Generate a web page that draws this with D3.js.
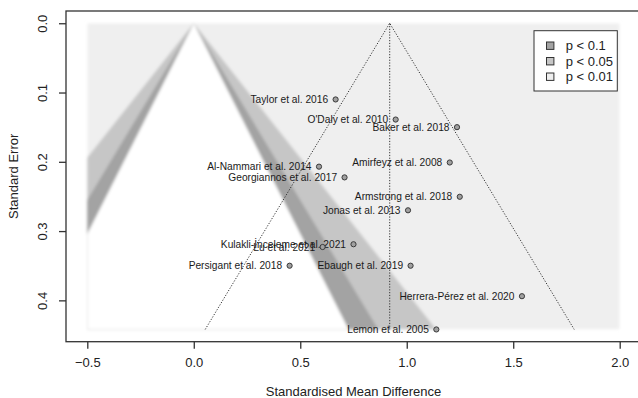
<!DOCTYPE html>
<html>
<head>
<meta charset="utf-8">
<script src="https://cdn.jsdelivr.net/npm/d3@7"></script>
<style>
  html, body { margin: 0; padding: 0; background: #fff; }
  svg { display: block; font-family: "Liberation Sans", Arial, sans-serif; }
</style>
</head>
<body>
<svg id="chart" width="638" height="398"></svg>
<script>
// Contour-enhanced funnel plot of standardised mean differences
const studies = [
  "Taylor et al. 2016", "O'Daly et al. 2010", "Baker et al. 2018",
  "Amirfeyz et al. 2008", "Al-Nammari et al. 2014", "Georgiannos et al. 2017",
  "Armstrong et al. 2018", "Jonas et al. 2013", "Kulakli-İnceleme et al. 2021",
  "Lu et al. 2021", "Persigant et al. 2018", "Ebaugh et al. 2019",
  "Herrera-Pérez et al. 2020", "Lemon et al. 2005"
];
const smd = [0.666, 0.948, 1.236, 1.202, 0.588, 0.708, 1.249, 1.006, 0.750, 0.605, 0.450, 1.018, 1.541, 1.139];
const se  = [0.110, 0.139, 0.150, 0.201, 0.207, 0.2225, 0.2505, 0.270, 0.319, 0.323, 0.350, 0.350, 0.394, 0.442];

const pooledEstimate = 0.92;
const xTicks = [-0.5, 0.0, 0.5, 1.0, 1.5, 2.0];
const yTicks = [0.0, 0.1, 0.2, 0.3, 0.4];
const xLimits = [-0.5, 2.0];

// contour levels: critical z values, their band colours and legend labels
const contourZ = [2.576, 1.96, 1.645];
const contourFill = ["#c6c6c6", "#a3a3a3", "#ffffff"];
const backFill = "#efefef";
const legendLabels = ["p < 0.1", "p < 0.05", "p < 0.01"];
const legendFill = ["#a3a3a3", "#c6c6c6", "#efefef"];

const svg = d3.select("#chart");
const seMax = d3.max(se);

// plot region with R-style 4% padding
const xPad = (xLimits[1] - xLimits[0]) * 0.04;
const yPad = seMax * 0.04;
const x = d3.scaleLinear().domain([xLimits[0] - xPad, xLimits[1] + xPad]).range([66, 641]);
const y = d3.scaleLinear().domain([-yPad, seMax + yPad]).range([11, 341.7]);

const defs = svg.append("defs");
defs.append("clipPath").attr("id", "shadeClip")
  .append("rect")
  .attr("x", x(xLimits[0])).attr("y", y(0))
  .attr("width", x(xLimits[1]) - x(xLimits[0]))
  .attr("height", y(seMax) - y(0));
defs.append("filter").attr("id", "soft").attr("x", "-5%").attr("y", "-5%").attr("width", "110%").attr("height", "110%")
  .append("feGaussianBlur").attr("stdDeviation", 1.6);

// shaded contour region, softened as a whole
const shadeWrap = svg.append("g").attr("filter", "url(#soft)");
const shade = shadeWrap.append("g").attr("clip-path", "url(#shadeClip)");
shade.append("rect")
  .attr("x", x(xLimits[0])).attr("y", y(0))
  .attr("width", x(xLimits[1]) - x(xLimits[0]))
  .attr("height", y(seMax) - y(0))
  .attr("fill", backFill);

// significance contours centred on zero
contourZ.forEach((z, i) => {
  const pts = [[-z * seMax, seMax], [0, 0], [z * seMax, seMax]];
  shade.append("path")
    .attr("d", d3.line().x(d => x(d[0])).y(d => y(d[1]))(pts) + "Z")
    .attr("fill", contourFill[i]);
});

// pseudo confidence region around the pooled estimate
const ciPts = [[pooledEstimate - 1.96 * seMax, seMax], [pooledEstimate, 0], [pooledEstimate + 1.96 * seMax, seMax]];
svg.append("path")
  .attr("d", d3.line().x(d => x(d[0])).y(d => y(d[1]))(ciPts))
  .attr("fill", "none").attr("stroke", "#333").attr("stroke-width", 1)
  .attr("stroke-dasharray", "1.2,1.6");
svg.append("line")
  .attr("x1", x(pooledEstimate)).attr("x2", x(pooledEstimate))
  .attr("y1", y(0)).attr("y2", y(seMax))
  .attr("stroke", "#333").attr("stroke-width", 1)
  .attr("stroke-dasharray", "1.2,1.6");

// study points and labels
const pts = svg.append("g");
studies.forEach((name, i) => {
  pts.append("circle")
    .attr("cx", x(smd[i])).attr("cy", y(se[i])).attr("r", 2.6)
    .attr("fill", "#a0a0a0").attr("stroke", "#3a3a3a").attr("stroke-width", 1);
  pts.append("text")
    .attr("x", x(smd[i]) - 7.5).attr("y", y(se[i]))
    .attr("dy", "0.35em")
    .attr("text-anchor", "end")
    .attr("font-size", 10.2)
    .attr("fill", "#1a1a1a")
    .text(name);
});

// frame
const [x0, x1] = x.range();
const [y0, y1] = y.range();
svg.append("rect")
  .attr("x", x0).attr("y", y0).attr("width", x1 - x0).attr("height", y1 - y0)
  .attr("fill", "none").attr("stroke", "#333").attr("stroke-width", 1.3);

// axes
const xAxis = svg.append("g").attr("transform", `translate(0,${y1})`)
  .call(d3.axisBottom(x).tickValues(xTicks).tickFormat(d3.format(".1f")).tickSize(7).tickPadding(9));
const yAxis = svg.append("g").attr("transform", `translate(${x0},0)`)
  .call(d3.axisLeft(y).tickValues(yTicks).tickFormat(d3.format(".1f")).tickSize(7));
[xAxis, yAxis].forEach(g => {
  g.select(".domain").remove();
  g.selectAll(".tick line").attr("stroke", "#333").attr("stroke-width", 1.3);
  g.selectAll("text").attr("font-size", 13).attr("fill", "#222")
    .attr("font-family", "'Liberation Sans', Arial, sans-serif");
});
yAxis.selectAll(".tick text")
  .attr("x", null).attr("dy", null)
  .attr("text-anchor", "middle")
  .attr("transform", "translate(-19,0) rotate(-90)");

// axis titles
svg.append("text")
  .attr("x", (x0 + x1) / 2).attr("y", 396)
  .attr("text-anchor", "middle").attr("font-size", 13).attr("fill", "#222")
  .text("Standardised Mean Difference");
svg.append("text")
  .attr("transform", `translate(18,${(y0 + y1) / 2}) rotate(-90)`)
  .attr("text-anchor", "middle").attr("font-size", 13).attr("fill", "#222")
  .text("Standard Error");

// legend
const lg = svg.append("g");
lg.append("rect")
  .attr("x", 534).attr("y", 30.7).attr("width", 83.3).attr("height", 60.3)
  .attr("fill", "#fff").attr("stroke", "#333").attr("stroke-width", 1);
legendLabels.forEach((lab, i) => {
  const cy = 45.7 + i * 15.5;
  lg.append("rect")
    .attr("x", 546.5).attr("y", cy - 3.7).attr("width", 7.4).attr("height", 7.4)
    .attr("fill", legendFill[i]).attr("stroke", "#333").attr("stroke-width", 1);
  lg.append("text")
    .attr("x", 565.7).attr("y", cy).attr("dy", "0.35em")
    .attr("font-size", 13).attr("fill", "#222")
    .text(lab);
});
</script>
</body>
</html>
